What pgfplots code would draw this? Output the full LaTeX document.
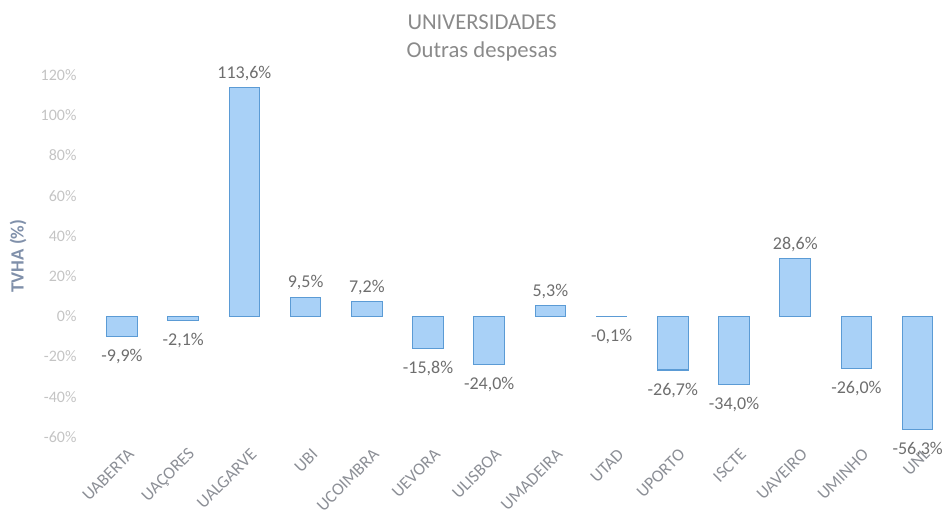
\documentclass[border=0pt]{standalone}
\usepackage{fontspec}
\setmainfont{Carlito}
\usepackage{pgfplots}
\usepackage{pgfplotstable}
\pgfplotsset{compat=1.18}
\definecolor{barfill}{HTML}{A9D1F7}
\definecolor{barline}{HTML}{5B9BD5}
\definecolor{titlegray}{HTML}{8A8A8A}
\definecolor{tickgray}{HTML}{C4C4C4}
\definecolor{labgray}{HTML}{6E6E6E}
\definecolor{xgray}{HTML}{8C8F96}
\definecolor{ylabblue}{HTML}{8090AA}
\pgfplotstableread{
x y
0 -9.9
1 -2.1
2 113.6
3 9.5
4 7.2
5 -15.8
6 -24.0
7 5.3
8 -0.1
9 -26.7
10 -34.0
11 28.6
12 -26.0
13 -56.3
}\datatable
\begin{document}
\begin{tikzpicture}
\useasboundingbox (-68.55pt,-58.5pt) rectangle (638.7pt,327.75pt);
\begin{axis}[
  scale only axis,
  width=638.5pt, height=271.5pt,
  xmin=-0.5, xmax=13.41,
  ymin=-60, ymax=120,
  clip=false,
  axis line style={draw=none},
  major tick length=0pt,
  xtick=data,
  xticklabels={UABERTA,UAÇORES,UALGARVE,UBI,UCOIMBRA,UEVORA,ULISBOA,UMADEIRA,UTAD,UPORTO,ISCTE,UAVEIRO,UMINHO,UNL},
  xticklabel style={font=\fontsize{13}{15}\selectfont, text=xgray, inner sep=0pt, xshift=7pt, yshift=-11pt, rotate=45, anchor=east},
  ytick={-60,-40,...,120},
  yticklabel={\pgfmathprintnumber{\tick}\%},
  yticklabel style={font=\fontsize{12}{14}\selectfont, text=tickgray, inner sep=0pt, anchor=east, xshift=-11pt},
  /pgf/number format/assume math mode=true,
  every axis y label/.style={at={(rel axis cs:-0.0862,0.5)}, rotate=90, anchor=center},
  ylabel={\bfseries TVHA (\%)},
  ylabel style={font=\fontsize{14}{16}\selectfont, text=ylabblue},
  ybar,
  bar width=0.5,
  visualization depends on={y \as \yv},
  nodes near coords={\pgfmathprintnumber[fixed,fixed zerofill,precision=1,use comma]{\pgfplotspointmeta}\%},
  nodes near coords style={font=\fontsize{13.5}{16}\selectfont, text=labgray, yshift={ifthenelse(\yv<0,-6pt,1.5pt)}},
]
\addplot[fill=barfill, draw=barline, line width=0.8pt] table[x=x,y=y] {\datatable};
\node[font=\fontsize{17}{19}\selectfont, text=titlegray] at (rel axis cs:0.4588,1.147) {UNIVERSIDADES};
\node[font=\fontsize{17}{19}\selectfont, text=titlegray] at (rel axis cs:0.4588,1.064) {Outras despesas};
\end{axis}
\end{tikzpicture}
\end{document}
